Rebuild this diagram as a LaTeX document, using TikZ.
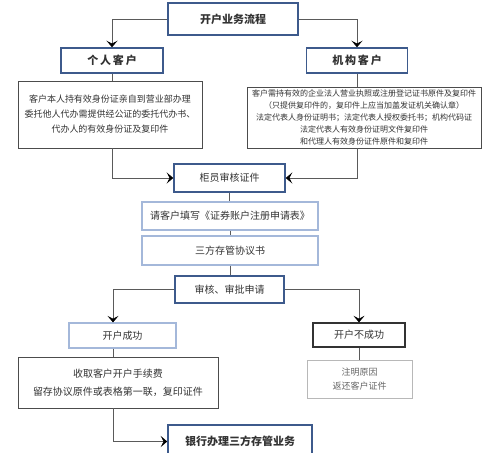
\documentclass[tikz,border=0pt]{standalone}
\usepackage{fontspec}
\setmainfont{Noto Sans CJK SC}
\usetikzlibrary{arrows.meta,calc}
\definecolor{navy}{HTML}{3D5A8C}
\definecolor{lightb}{HTML}{A4B8DA}
\definecolor{txt}{HTML}{333333}
\definecolor{conn}{HTML}{5A5A5A}
\tikzset{
  boxbase/.style={rectangle, inner sep=0pt, fill=white, text=txt, align=center},
  bluebox/.style={boxbase, draw=navy, line width=1.5pt},
  lightbox/.style={boxbase, draw=lightb, line width=1.2pt},
  darkbox/.style={boxbase, draw=black!80, line width=1.3pt},
  plainbox/.style={boxbase, draw=black!70, line width=0.8pt},
  greybox/.style={boxbase, draw=black!28, line width=0.8pt, text=black!60},
  conline/.style={draw=conn, line width=0.6pt},
  arr/.style={conline, -{Stealth[length=6.5pt,width=11pt,inset=2.8pt,color=black]}},
}
\begin{document}
\begin{tikzpicture}[x=1pt,y=-1pt]
\useasboundingbox (0,0) rectangle (488,453);
\clip (0,0) rectangle (488,453);

\node[bluebox, minimum width=130pt, minimum height=32pt, font=\fontsize{11}{13}\selectfont\bfseries] (top) at (233,19) {开户业务流程};
\node[bluebox, minimum width=102pt, minimum height=25pt, font=\fontsize{11}{13}\selectfont\bfseries] (ind) at (112,60.5) {个\,人\,客\,户};
\node[bluebox, minimum width=101pt, minimum height=25pt, font=\fontsize{11}{13}\selectfont\bfseries] (org) at (357,60.5) {机\,构\,客\,户};

\node[plainbox, minimum width=184pt, minimum height=67pt, font=\fontsize{9}{15}\selectfont] (leftbox) at (110,114.5)
  {客户本人持有效身份证亲自到营业部办理\\委托他人代办需提供经公证的委托代办书、\\代办人的有效身份证及复印件};
\node[plainbox, minimum width=234pt, minimum height=61pt, font=\fontsize{8}{12}\selectfont] (rightbox) at (364,117.5)
  {客户需持有效的企业法人营业执照或注册登记证书原件及复印件\\（只提供复印件的，复印件上应当加盖发证机关确认章）\\法定代表人身份证明书；法定代表人授权委托书；机构代码证\\法定代表人有效身份证明文件复印件\\和代理人有效身份证件原件和复印件};

\node[bluebox, minimum width=111pt, minimum height=28pt, font=\fontsize{10}{12}\selectfont] (check) at (229.5,178) {柜员审核证件};
\node[lightbox, minimum width=176pt, minimum height=28pt, font=\fontsize{10}{12}\selectfont] (form) at (230,216) {请客户填写《证券账户注册申请表》};
\node[lightbox, minimum width=176pt, minimum height=29pt, font=\fontsize{10}{12}\selectfont] (agree) at (230,250.5) {三方存管协议书};
\node[bluebox, minimum width=109pt, minimum height=27pt, font=\fontsize{10}{12}\selectfont] (review) at (229.5,289.5) {审核、审批申请};

\node[lightbox, minimum width=107pt, minimum height=25pt, font=\fontsize{10}{12}\selectfont] (succ) at (122.5,335.5) {开户成功};
\node[darkbox, minimum width=92pt, minimum height=24pt, font=\fontsize{10}{12}\selectfont] (fail) at (359,335) {开户不成功};

\node[plainbox, minimum width=200pt, minimum height=51pt, font=\fontsize{10}{18}\selectfont] (fee) at (118,382.5)
  {收取客户开户手续费\\留存协议原件或表格第一联，复印证件};
\node[greybox, minimum width=105pt, minimum height=38pt, font=\fontsize{9}{14}\selectfont] (reason) at (359.5,379)
  {注明原因\\返还客户证件};
\node[bluebox, minimum width=144pt, minimum height=33pt, font=\fontsize{11}{13}\selectfont\bfseries] (bank) at (240,441.5) {银行办理三方存管业务};

\coordinate (lx) at (113,0);

\draw[arr] (top.west) -| (ind.north);
\draw[arr] (top.east) -| (org.north);
\draw[conline] (ind.south) -- (ind.south |- leftbox.north);
\draw[conline] (org.south) -- (org.south |- rightbox.north);
\draw[arr] (leftbox.south -| ind.south) |- (check.west);
\draw[arr] (rightbox.south -| org.south) |- (check.east);
\draw[conline] (check.south) -- (check.south |- form.north);
\draw[conline] (form.south) -- (form.south |- agree.north);
\draw[conline] (agree.south) -- (agree.south |- review.north);
\draw[arr] (review.west) -| (lx |- succ.north);
\draw[arr] (review.east) -| (fail.north);
\draw[conline] (lx |- succ.south) -- (lx |- fee.north);
\draw[conline] (fail.south) -- (fail.south |- reason.north);
\draw[arr] (lx |- fee.south) |- (bank.west);
\end{tikzpicture}
\end{document}
